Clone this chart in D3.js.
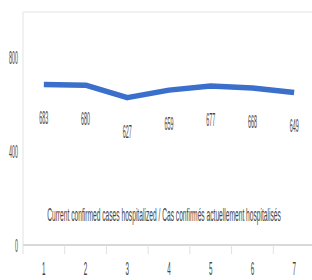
<!DOCTYPE html>
<html><head><meta charset="utf-8">
<script src="https://cdn.jsdelivr.net/npm/d3@7"></script>
<style>body{margin:0;background:#fff}svg{display:block}text{font-family:"Liberation Sans",Arial,sans-serif;fill:#454545}</style>
</head><body>
<script>
const categories = ["1","2","3","4","5","6","7"];
const values = [683, 680, 627, 659, 677, 668, 649];
const yTicks = [0, 400, 800];
const title = "Current confirmed cases hospitalized / Cas confirmés actuellement hospitalisés";

const W = 312, H = 280;
const svg = d3.select("body").append("svg").attr("width", W).attr("height", H);
const x = d3.scaleBand().domain(categories).range([23, 315]).padding(0);
const y = d3.scaleLinear().domain([0, 1000]).range([245, 10]);
const cx = c => x(c) + x.bandwidth() / 2;

// squeezed text helper: places text with anchor at (px,py), scaled horizontally to target width
function sqText(cls, str, px, py, size, targetW, anchor) {
  const g = svg.append("g").attr("class", cls);
  const t = g.append("text").attr("font-size", size).attr("text-anchor", anchor || "middle").text(str);
  const nat = t.node().getComputedTextLength();
  const s = targetW / nat;
  g.attr("transform", `translate(${px},${py}) scale(${s},1)`);
  return g;
}

// plot frame (top + left light lines)
svg.append("line").attr("x1", 23).attr("x2", W).attr("y1", 12).attr("y2", 12).attr("stroke", "#ececec").attr("stroke-width", 1.5);
svg.append("line").attr("x1", 23).attr("x2", 23).attr("y1", 12).attr("y2", 245).attr("stroke", "#ececec").attr("stroke-width", 1.5);

// bottom axis
svg.append("line").attr("x1", 23).attr("x2", W).attr("y1", y(0)).attr("y2", y(0)).attr("stroke", "#d9d9d9").attr("stroke-width", 2);
svg.selectAll("line.tk").data(categories).enter().append("line").attr("class","tk")
  .attr("x1", d => x(d)).attr("x2", d => x(d)).attr("y1", y(0)).attr("y2", y(0) + 9)
  .attr("stroke", "#e0e0e0").attr("stroke-width", 1);

// x tick labels
categories.forEach(c => sqText("xl", c, cx(c), 275, 19, 3.5));

// y tick labels
yTicks.forEach(v => sqText("yl", String(v), 18, y(v) + 7, 19, String(v).length * 3, "end"));

// line
const line = d3.line().x((d, i) => cx(categories[i])).y(d => y(d));
svg.append("path").datum(values).attr("d", line).attr("fill", "none")
  .attr("stroke", "#3b6fcc").attr("stroke-width", 5.5).attr("stroke-linejoin", "round");

// data labels
values.forEach((v, i) => sqText("dl", String(v), cx(categories[i]), y(v) + 40, 19, 9));

// title
sqText("ttl", title, 164, 221, 19, 234);
</script>
</body></html>
